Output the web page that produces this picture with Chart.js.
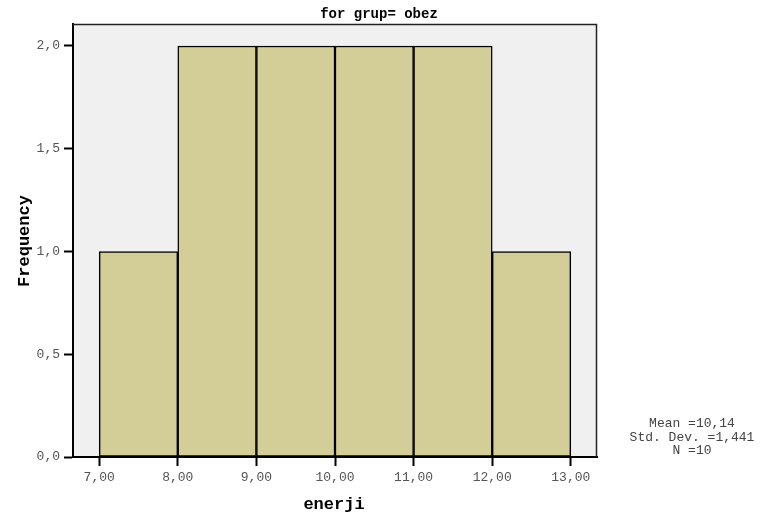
<!DOCTYPE html>
<html>
<head>
<meta charset="utf-8">
<script src="https://cdn.jsdelivr.net/npm/chart.js@4/dist/chart.umd.min.js"></script>
<style>
  html, body { margin: 0; padding: 0; background: #fff; }
  #wrap { width: 772px; height: 513px; }
</style>
</head>
<body>
<div id="wrap"><canvas id="histChart" width="772" height="513"></canvas></div>
<script>
// histogram data (bins of width 1)
const binCenters = [7.5, 8.5, 9.5, 10.5, 11.5, 12.5];
const frequency = [1, 2, 2, 2, 2, 1];
const xTicks = [7, 8, 9, 10, 11, 12, 13];
const yTicks = [0, 0.5, 1, 1.5, 2];
const titleText = "for grup= obez";
const statsLines = ["Mean =10,14", "Std. Dev. =1,441", "N =10"];

const MONO = "'Liberation Mono', 'Courier New', monospace";

const frame = {
    id: "frame",
    beforeDraw(chart) {
        const { ctx, chartArea: a } = chart;
        ctx.save();
        ctx.fillStyle = "#ffffff";
        ctx.fillRect(0, 0, chart.width, chart.height);
        ctx.fillStyle = "#f0f0f0";
        ctx.fillRect(a.left, a.top, a.right - a.left, a.bottom - a.top);
        ctx.restore();
    },
    afterDraw(chart) {
        const { ctx, chartArea: a } = chart;
        ctx.save();
        // top and right edges of the frame
        ctx.strokeStyle = "#222";
        ctx.lineWidth = 1.5;
        ctx.beginPath();
        ctx.moveTo(a.left, a.top + 0.5);
        ctx.lineTo(a.right - 0.5, a.top + 0.5);
        ctx.lineTo(a.right - 0.5, a.bottom);
        ctx.stroke();

        ctx.fillStyle = "#000";
        ctx.textAlign = "center";
        ctx.textBaseline = "middle";
        ctx.font = "bold 14px " + MONO;
        ctx.fillText(titleText, 379, 14);

        ctx.font = "bold 17px " + MONO;
        ctx.fillText("enerji", 334, 505);
        ctx.save();
        ctx.translate(25, 241);
        ctx.rotate(-Math.PI / 2);
        ctx.fillText("Frequency", 0, 0);
        ctx.restore();

        ctx.fillStyle = "#444";
        ctx.font = "13px " + MONO;
        statsLines.forEach((t, i) => ctx.fillText(t, 692, 424 + i * 13.5));
        ctx.restore();
    }
};

const ctx = document.getElementById("histChart").getContext("2d");
new Chart(ctx, {
    type: "bar",
    data: {
        datasets: [{
            data: binCenters.map((c, i) => ({ x: c, y: frequency[i] })),
            backgroundColor: "#d3ce98",
            borderColor: "#000",
            borderWidth: 1.5,
            borderSkipped: false,
            barPercentage: 1,
            categoryPercentage: 1
        }]
    },
    options: {
        responsive: false,
        animation: false,
        layout: { padding: { left: 0, top: 24, right: 175, bottom: 0 } },
        plugins: { legend: { display: false }, tooltip: { enabled: false } },
        scales: {
            x: {
                type: "linear",
                offset: false,
                min: 6.667,
                max: 13.333,
                afterBuildTicks: s => { s.ticks = xTicks.map(v => ({ value: v })); },
                afterFit: s => { s.height = 56; },
                grid: { offset: false, drawOnChartArea: false, tickLength: 9, tickColor: "#000", tickWidth: 2 },
                border: { color: "#000", width: 2 },
                ticks: {
                    color: "#555",
                    padding: 4,
                    maxRotation: 0,
                    font: { family: MONO, size: 13 },
                    callback: v => v.toFixed(2).replace(".", ",")
                }
            },
            y: {
                min: 0,
                max: 2.107,
                afterBuildTicks: s => { s.ticks = yTicks.map(v => ({ value: v })); },
                afterFit: s => { s.width = 73; },
                grid: { drawOnChartArea: false, tickLength: 9, tickColor: "#000", tickWidth: 2 },
                border: { color: "#000", width: 2 },
                ticks: {
                    color: "#555",
                    padding: 4,
                    font: { family: MONO, size: 13 },
                    callback: v => v.toFixed(1).replace(".", ",")
                }
            }
        }
    },
    plugins: [frame]
});
</script>
</body>
</html>
